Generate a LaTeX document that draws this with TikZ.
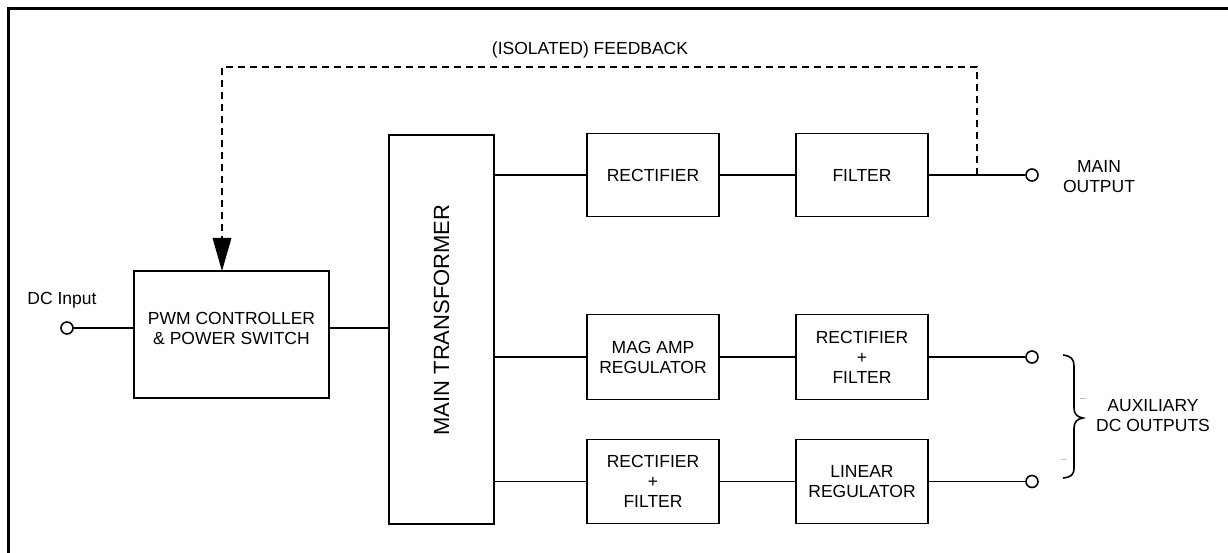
\documentclass[tikz,border=0pt]{standalone}
\usepackage{fontspec}
\setmainfont{Liberation Sans}
\usetikzlibrary{arrows.meta}
\tikzset{
  blk/.style={draw, line width=1.6pt, minimum width=132pt, minimum height=83pt, inner sep=0pt, align=center, font=\fontsize{17.5}{20}\selectfont},
  txt/.style={align=center, inner sep=0pt, font=\fontsize{17.5}{20}\selectfont},
  wire/.style={line width=1.6pt},
  term/.style={circle, draw, line width=1.6pt, minimum size=12pt, inner sep=0pt, fill=white},
  fb/.style={line width=1.6pt, dash pattern=on 7pt off 5pt},
}
\begin{document}
\begin{tikzpicture}[x=1pt,y=-1pt]
\useasboundingbox (0,0) rectangle (1228,553);
% outer frame
\draw[line width=3pt] (8,553) -- (8,9) -- (1228,9);
% feedback label
\node[txt] (fblabel) at (590,50) {(ISOLATED) FEEDBACK};
% blocks
\node[blk, minimum width=195pt, minimum height=127pt] (pwm) at (231.5,334.5) {};
\node[txt] (pwmtext) at (231.5,328) {PWM CONTROLLER\\\& POWER SWITCH};
\node[blk, minimum width=105pt, minimum height=389pt] (xfmr) at (441.5,329.5) {};
\node[txt, rotate=90, font=\fontsize{22}{24}\selectfont] (xfmrtext) at (441.5,320) {MAIN TRANSFORMER};
\node[blk] (rect1) at (653,175) {RECTIFIER};
\node[blk] (filt1) at (862,175) {FILTER};
\node[blk, minimum height=85pt] (magamp) at (653,357) {MAG AMP\\REGULATOR};
\node[blk, minimum height=85pt] (rf2) at (862,357) {RECTIFIER\\+\\FILTER};
\node[blk, minimum height=84pt] (rf3) at (653,481.5) {RECTIFIER\\+\\FILTER};
\node[blk, minimum height=84pt] (linreg) at (862,481.5) {LINEAR\\REGULATOR};
% terminals
\node[term] (in) at (67,328) {};
\node[txt] (inlabel) at (62,300) {DC Input};
\node[term] (out1) at (1032,175) {};
\node[term] (out2) at (1032,357) {};
\node[term] (out3) at (1032,481.5) {};
\node[txt] (mainlabel) at (1099,177) {MAIN\\OUTPUT};
\node[txt] (auxlabel) at (1153,416) {AUXILIARY\\DC OUTPUTS};
% connections
\draw[wire] (in.east) -- (pwm.west |- in);
\draw[wire] (pwm.east |- in) -- (xfmr.west |- in);
\draw[wire] (xfmr.east |- rect1) -- (rect1.west);
\draw[wire] (rect1.east) -- (filt1.west);
\draw[wire] (filt1.east) -- (out1.west);
\draw[wire] (xfmr.east |- magamp) -- (magamp.west);
\draw[wire] (magamp.east) -- (rf2.west);
\draw[wire] (rf2.east) -- (out2.west);
\draw[wire] (xfmr.east |- rf3) -- (rf3.west);
\draw[wire] (rf3.east) -- (linreg.west);
\draw[wire] (linreg.east) -- (out3.west);
% feedback
\coordinate (tap) at (977,175);
\coordinate (fbtr) at (977,67);
\coordinate (fbtl) at (222,67);
\coordinate (fbin) at (222,271);
\draw[fb] (tap) -- (fbtr) -- (fbtl) -- (fbin);
\fill (fbin) -- (212.5,238) -- (231.5,238) -- cycle;
% brace
\draw[line width=1.6pt] (1063,355) .. controls (1071,356) and (1074,359) .. (1074,366)
  -- (1074,408) .. controls (1074,414) and (1077,417) .. (1083,418)
  .. controls (1077,419) and (1074,422) .. (1074,428)
  -- (1074,468) .. controls (1074,475) and (1071,477) .. (1063,478);
\draw[gray!50, line width=0.6pt] (1080,398) -- (1086,398);
\draw[gray!50, line width=0.6pt] (1061,459) -- (1066,459);
\end{tikzpicture}
\end{document}
